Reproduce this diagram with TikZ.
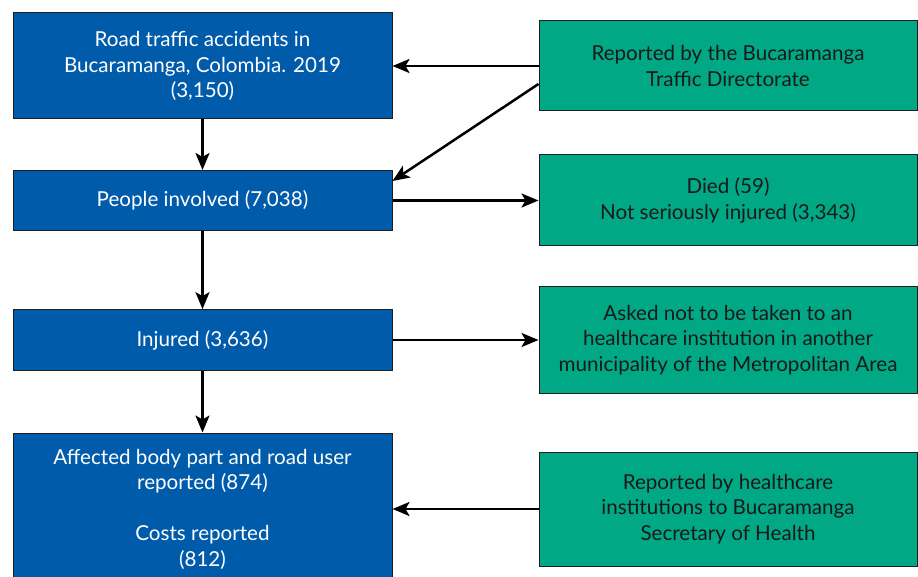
\documentclass[tikz,border=0pt]{standalone}
\usepackage{fontspec}
\setmainfont{Lato}
\usetikzlibrary{arrows.meta,calc}
\definecolor{boxblue}{RGB}{0,91,170}
\definecolor{boxgreen}{RGB}{0,168,134}
\definecolor{edgedark}{RGB}{30,30,30}
\tikzset{
  bluebox/.style={draw=edgedark, line width=1pt, fill=boxblue, text=white, align=center,
    minimum width=379pt, inner sep=0pt, font=\fontsize{20.6}{25.5}\selectfont},
  greenbox/.style={draw=edgedark, line width=1pt, fill=boxgreen, text=black!90, align=center,
    minimum width=378pt, inner sep=0pt, font=\fontsize{20.6}{25.5}\selectfont},
  arr/.style={draw=black, line width=2.5pt, -{Stealth[length=17pt,width=14pt,inset=4pt]}}
}
\begin{document}
\begin{tikzpicture}[x=1pt,y=-1pt]
\useasboundingbox (0,0) rectangle (918,577);
\node[bluebox, minimum height=106pt] (b1) at (202.5,66) {Road traffic accidents in\\Bucaramanga, Colombia. 2019\\(3,150)};
\node[bluebox, minimum height=60pt] (b2) at (202.5,200.5) {People involved (7,038)};
\node[bluebox, minimum height=60.7pt] (b3) at (202.5,340) {Injured (3,636)};
\node[bluebox, minimum height=152pt] (b4) at (202.5,509) {Affected body part and road user\\reported (874)\\[25.5pt]Costs reported\\(812)};
\node[greenbox, minimum height=90pt] (g1) at (728,66) {Reported by the Bucaramanga\\Traffic Directorate};
\node[greenbox, minimum height=91pt] (g2) at (728,200.5) {Died (59)\\Not seriously injured (3,343)};
\node[greenbox, minimum height=106pt] (g3) at (728,340) {Asked not to be taken to an\\healthcare institution in another\\municipality of the Metropolitan Area};
\node[greenbox, minimum height=114pt] (g4) at (728,509) {Reported by healthcare\\institutions to Bucaramanga\\Secretary of Health};
\draw[arr] (g1.west) -- (g1.west -| b1.east);
\draw[arr] ($(g1.west)+(0,18)$) -- ($(b2.north east)+(0,11)$);
\draw[arr] (b1.south) -- (b2.north);
\draw[arr] (b2.south) -- (b3.north);
\draw[arr] (b3.south) -- (b4.north);
\draw[arr] (b2.east) -- (b2.east -| g2.west);
\draw[arr] (b3.east) -- (b3.east -| g3.west);
\draw[arr] (g4.west) -- (g4.west -| b4.east);
\end{tikzpicture}
\end{document}
